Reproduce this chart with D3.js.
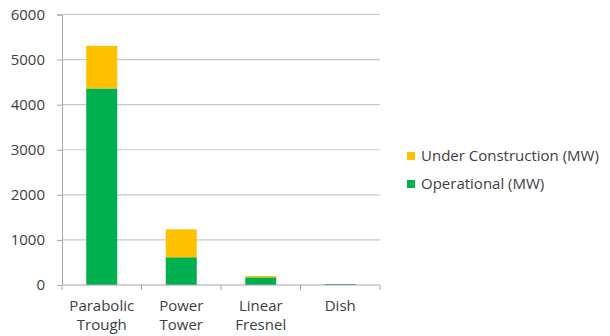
<!DOCTYPE html>
<html>
<head>
<meta charset="utf-8">
<script src="https://cdn.jsdelivr.net/npm/d3@7"></script>
<style>
  body { margin: 0; background: #fff; }
  text { font-family: "Open Sans", sans-serif; fill: #404040; }
</style>
</head>
<body>
<svg></svg>
<script>
// technology types and capacity in MW
var categories = [["Parabolic", "Trough"], ["Power", "Tower"], ["Linear", "Fresnel"], ["Dish"]];
var operational = [4360, 615, 170, 20];
var underConstruction = [945, 620, 30, 0];
var seriesNames = ["Under Construction (MW)", "Operational (MW)"];
var yTicks = [0, 1000, 2000, 3000, 4000, 5000, 6000];

var svgWidth = 610, svgHeight = 336;

var svg = d3.select('svg')
    .attr("width", svgWidth)
    .attr("height", svgHeight);

var x = d3.scaleBand()
    .domain(d3.range(categories.length))
    .range([62, 380])
    .padding(0);

var y = d3.scaleLinear()
    .domain([0, 6000])
    .range([285, 14.5]);

var colors = { op: "#00b050", uc: "#ffc000" };

// gridlines
svg.append('g')
    .selectAll('line')
    .data(yTicks.slice(1))
    .enter()
    .append('line')
    .attr('x1', 62).attr('x2', 380)
    .attr('y1', function (d) { return y(d); })
    .attr('y2', function (d) { return y(d); })
    .attr('stroke', '#c8c8c8')
    .attr('stroke-width', 1.2);

// y axis
var yAxis = svg.append('g')
    .attr('transform', 'translate(62,0)')
    .call(d3.axisLeft(y).tickValues(yTicks).tickFormat(d3.format('d')).tickSize(5).tickPadding(12));
yAxis.select('.domain').attr('stroke', '#a6a6a6');
yAxis.selectAll('.tick line').attr('stroke', '#a6a6a6');
yAxis.selectAll('text').style('font-size', '15px').attr('fill', '#404040');

// bars
var barW = x.bandwidth() * 0.39;
var bars = svg.append('g')
    .selectAll('g')
    .data(categories)
    .enter()
    .append('g');

bars.append('rect')
    .attr('x', function (d, i) { return x(i) + (x.bandwidth() - barW) / 2; })
    .attr('width', barW)
    .attr('y', function (d, i) { return y(operational[i]); })
    .attr('height', function (d, i) { return y(0) - y(operational[i]); })
    .attr('fill', colors.op);

bars.append('rect')
    .attr('x', function (d, i) { return x(i) + (x.bandwidth() - barW) / 2; })
    .attr('width', barW)
    .attr('y', function (d, i) { return y(operational[i] + underConstruction[i]); })
    .attr('height', function (d, i) { return y(operational[i]) - y(operational[i] + underConstruction[i]); })
    .attr('fill', colors.uc);

// x axis
var xAxis = svg.append('g')
    .attr('transform', 'translate(0,' + y(0) + ')');
xAxis.append('line')
    .attr('x1', 62).attr('x2', 380)
    .attr('stroke', '#a6a6a6').attr('stroke-width', 1.2);
xAxis.selectAll('.xtick')
    .data(d3.range(categories.length + 1))
    .enter()
    .append('line')
    .attr('x1', function (d) { return 62 + d * x.step(); })
    .attr('x2', function (d) { return 62 + d * x.step(); })
    .attr('y1', 0).attr('y2', 5)
    .attr('stroke', '#a6a6a6');

var xLabels = xAxis.selectAll('text')
    .data(categories)
    .enter()
    .append('text')
    .attr('text-anchor', 'middle')
    .attr('transform', function (d, i) { return 'translate(' + (x(i) + x.bandwidth() / 2) + ',0)'; })
    .style('font-size', '15px');

xLabels.selectAll('tspan')
    .data(function (d) { return d; })
    .enter()
    .append('tspan')
    .attr('x', 0)
    .attr('y', function (d, j) { return 26 + j * 18.5; })
    .text(function (d) { return d; });

// legend
var legend = svg.append('g')
    .selectAll('g')
    .data(seriesNames)
    .enter()
    .append('g')
    .attr('transform', function (d, i) { return 'translate(407,' + (156 + i * 28) + ')'; });

legend.append('rect')
    .attr('x', 0).attr('y', -4)
    .attr('width', 8).attr('height', 8)
    .attr('fill', function (d, i) { return i === 0 ? colors.uc : colors.op; });

legend.append('text')
    .attr('x', 14)
    .attr('dy', '0.35em')
    .style('font-size', '15px')
    .text(function (d) { return d; });
</script>
</body>
</html>
